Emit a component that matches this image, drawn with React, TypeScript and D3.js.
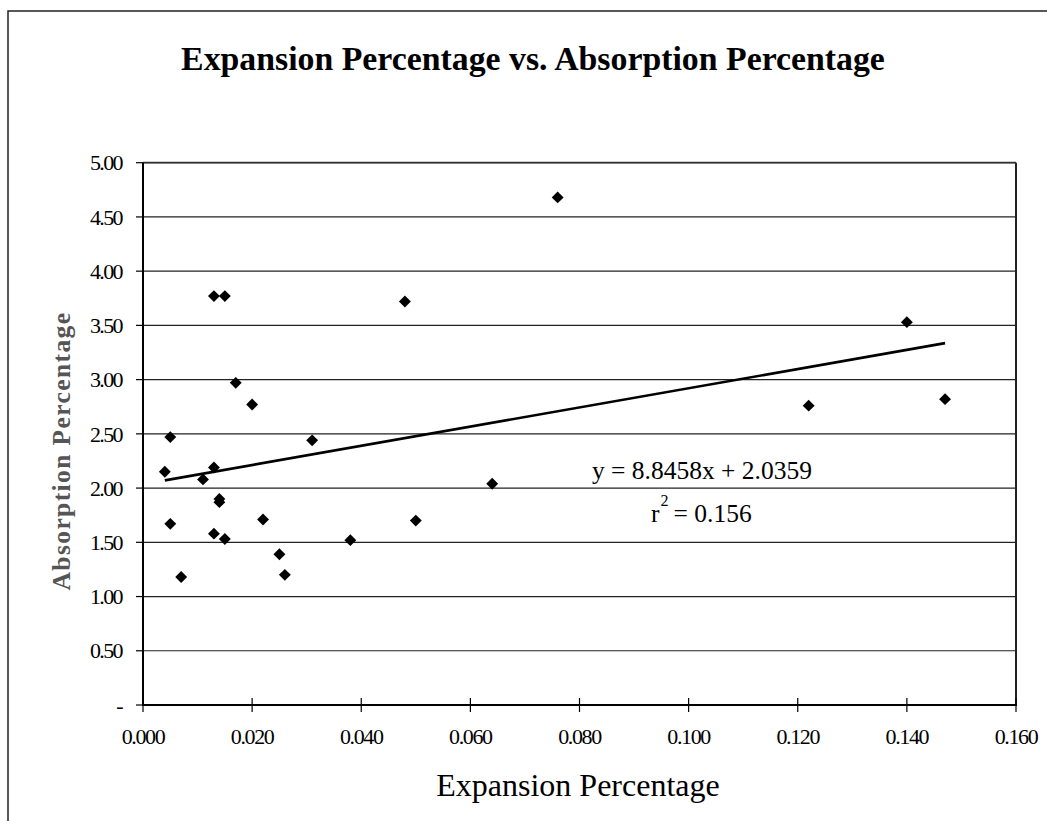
import React from "react";
import * as d3 from "d3";

const expansion = [
  0.013, 0.015, 0.017, 0.020, 0.005, 0.031, 0.004, 0.013, 0.011, 0.014,
  0.014, 0.005, 0.022, 0.013, 0.015, 0.025, 0.026, 0.007, 0.038, 0.076,
  0.048, 0.140, 0.122, 0.147, 0.064, 0.050,
];
const absorption = [
  3.77, 3.77, 2.97, 2.77, 2.47, 2.44, 2.15, 2.19, 2.08, 1.90,
  1.87, 1.67, 1.71, 1.58, 1.53, 1.39, 1.20, 1.18, 1.52, 4.68,
  3.72, 3.53, 2.76, 2.82, 2.04, 1.70,
];
const slope = 8.8458;
const intercept = 2.0359;
const rSquared = 0.156;
const xTicks = [0, 0.02, 0.04, 0.06, 0.08, 0.1, 0.12, 0.14, 0.16];
const yTicks = [0, 0.5, 1, 1.5, 2, 2.5, 3, 3.5, 4, 4.5, 5];

const title = "Expansion Percentage vs. Absorption Percentage";
const xTitle = "Expansion Percentage";
const yTitle = "Absorption Percentage";

const W = 1047;
const H = 821;
const left = 143;
const right = 1016;
const top = 162.7;
const bottom = 705;

export default function App() {
  const x = d3.scaleLinear().domain([0, 0.16]).range([left, right]);
  const y = d3.scaleLinear().domain([0, 5]).range([bottom, top]);
  const fx = d3.format(".3f");
  const fy = d3.format(".2f");
  const pts = expansion.map((v, i) => [v, absorption[i]] as [number, number]);
  const [xmin, xmax] = d3.extent(expansion) as [number, number];
  const line = d3.line<number>()
    .x((d) => x(d))
    .y((d) => y(slope * d + intercept));
  const diamond = d3.symbol().type(d3.symbolDiamond2).size(90)();
  const font = "'Liberation Serif', 'Times New Roman', serif";

  return (
    <svg
      width={W}
      height={H}
      style={{ position: "absolute", left: 0, top: 0, background: "#fff" }}
      fontFamily={font}
    >
      <rect x={8} y={11} width={1100} height={900} fill="#fff" stroke="#222" strokeWidth={1.5} />
      <text x={533} y={70} textAnchor="middle" fontSize={33.8} fontWeight="bold" fill="#000">
        {title}
      </text>
      {/* gridlines */}
      {yTicks.filter((t) => t > 0).map((t) => (
        <line key={"g" + t} x1={left} x2={right} y1={y(t)} y2={y(t)} stroke="#222" strokeWidth={1.2} />
      ))}
      {/* plot border right/top */}
      <line x1={right} x2={right} y1={top} y2={bottom} stroke="#222" strokeWidth={2} />
      <line x1={left} x2={right} y1={top} y2={top} stroke="#333" strokeWidth={1.8} />
      {/* axes */}
      <line x1={left} x2={left} y1={top} y2={bottom + 1} stroke="#000" strokeWidth={2} />
      <line x1={left - 1} x2={right + 1} y1={bottom} y2={bottom} stroke="#000" strokeWidth={2} />
      {/* y ticks */}
      {yTicks.map((t) => (
        <g key={"y" + t}>
          <line x1={left - 7} x2={left} y1={y(t)} y2={y(t)} stroke="#000" strokeWidth={1.2} />
          <text
            x={122}
            y={y(t)}
            dy="0.35em"
            textAnchor="end"
            fontSize={22}
            letterSpacing={-1.6}
            fill="#000"
          >
            {t === 0 ? "-" : fy(t)}
          </text>
        </g>
      ))}
      {/* x ticks */}
      {xTicks.map((t) => (
        <g key={"x" + t}>
          <line x1={x(t)} x2={x(t)} y1={bottom - 7} y2={bottom + 7} stroke="#000" strokeWidth={1.2} />
          <text
            x={x(t)}
            y={744}
            textAnchor="middle"
            fontSize={22}
            letterSpacing={-1.4}
            fill="#000"
          >
            {fx(t)}
          </text>
        </g>
      ))}
      {/* trend line */}
      <path d={line([xmin, xmax]) || ""} fill="none" stroke="#000" strokeWidth={2.6} />
      {/* points */}
      {pts.map(([a, b], i) => (
        <path key={"p" + i} d={diamond || ""} transform={`translate(${x(a)},${y(b)})`} fill="#000" />
      ))}
      {/* equation */}
      <text x={702} y={479} textAnchor="middle" fontSize={25.5} fill="#000">
        {`y = ${slope}x + ${intercept}`}
      </text>
      <text x={651} y={522} fontSize={25.5} fill="#000">
        r
        <tspan fontSize={16} dy={-16} dx={1}>2</tspan>
        <tspan dy={16} dx={5}>{`= ${rSquared}`}</tspan>
      </text>
      {/* axis titles */}
      <text x={578} y={796} textAnchor="middle" fontSize={32} fill="#000">
        {xTitle}
      </text>
      <text
        transform={`translate(70,451) rotate(-90)`}
        textAnchor="middle"
        fontSize={25.5}
        fontWeight="bold"
        fill="#555"
        letterSpacing={1.4}
      >
        {yTitle}
      </text>
    </svg>
  );
}
